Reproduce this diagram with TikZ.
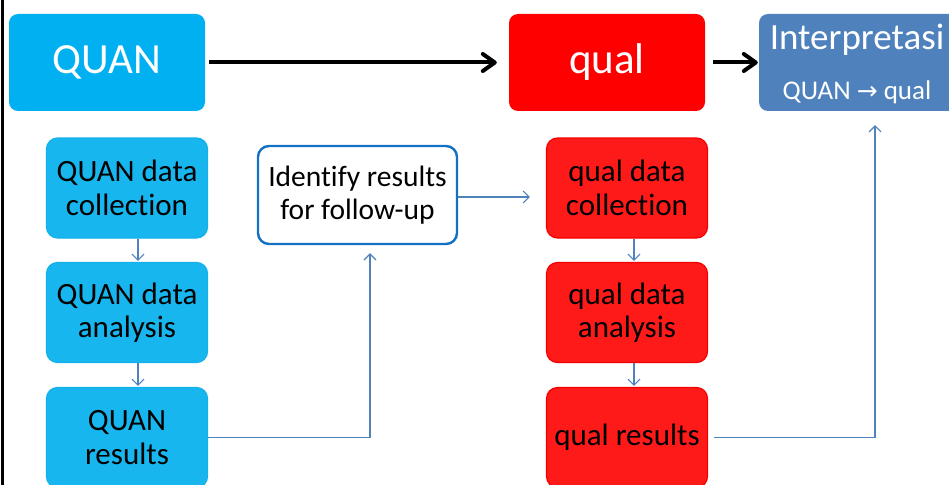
\documentclass[tikz,border=0pt]{standalone}
\usepackage{fontspec}
\setmainfont{Carlito}[Ligatures=NoCommon]
\newfontfamily\arrowfont{DejaVu Sans}
\usetikzlibrary{arrows.meta,calc}
\definecolor{quanTop}{RGB}{0,176,240}
\definecolor{quanSub}{RGB}{24,182,238}
\definecolor{quanSubB}{RGB}{20,176,236}
\definecolor{qualTop}{RGB}{255,0,0}
\definecolor{qualSub}{RGB}{255,26,26}
\definecolor{qualSubB}{RGB}{245,0,0}
\definecolor{interp}{RGB}{79,129,189}
\definecolor{identB}{RGB}{20,112,196}
\definecolor{linkB}{RGB}{79,129,189}
\tikzset{
  topbox/.style={rectangle, rounded corners=9pt, minimum width=196pt, minimum height=97pt, inner sep=0pt, text=white, align=center},
  subbox/.style={rectangle, rounded corners=11pt, minimum width=161pt, minimum height=100pt, inner sep=0pt, text=black, align=center, line width=1.2pt, font=\fontsize{31}{33.5}\selectfont},
  bigarrow/.style={line width=4pt, -{Straight Barb[length=12pt, width=17pt, line width=4pt, round]}},
  link/.style={draw=linkB, line width=1.2pt, -{Straight Barb[length=6pt, width=12pt, line width=1.1pt]}}
}
\begin{document}
\begin{tikzpicture}[x=1pt, y=-1pt]
\useasboundingbox (0,0) rectangle (949,484);
\clip (0,0) rectangle (949,484);
\fill[white] (0,0) rectangle (949,484);
\draw[line width=2.6pt, black] (2.5,-5) -- (2.5,490);
% top row
\node[topbox, fill=quanTop, font=\fontsize{43}{48}\selectfont] (quan) at (107,62.5) {QUAN};
\node[topbox, fill=qualTop, font=\fontsize{43}{48}\selectfont] (qual) at (607,62.5) {qual};
\node[topbox, fill=interp, minimum width=200pt] (interp) at (859,62.5) {};
\node[text=white, font=\fontsize{37}{44}\selectfont, inner sep=0pt] (interpT) at (857,40) {Interpretasi};
\node[text=white, font=\fontsize{27}{30}\selectfont, inner sep=0pt] (interpS) at (857,92) {QUAN {\arrowfont\fontsize{25}{28}\selectfont →} qual};
% QUAN column
\node[subbox, fill=quanSub, draw=quanSubB] (qdc) at (127,188) {QUAN data\\collection};
\node[subbox, fill=quanSub, draw=quanSubB] (qda) at (127,312.5) {QUAN data\\analysis};
\node[subbox, fill=quanSub, draw=quanSubB] (qres) at (127,437.5) {QUAN\\results};
% identify
\node[rectangle, rounded corners=11pt, minimum width=199pt, minimum height=98pt, inner sep=0pt, draw=identB, line width=2.4pt, fill=white, align=center, font=\fontsize{29.5}{32.5}\selectfont] (ident) at (357.5,195) {Identify results\\for follow-up};
% qual column
\node[subbox, fill=qualSub, draw=qualSubB] (ldc) at (627,188) {qual data\\collection};
\node[subbox, fill=qualSub, draw=qualSubB] (lda) at (627,312.5) {qual data\\analysis};
\node[subbox, fill=qualSub, draw=qualSubB] (lres) at (627,437.5) {qual results};
% big arrows
\draw[bigarrow, shorten <=4pt, shorten >=12pt] (quan.east) -- (qual.west);
\draw[bigarrow, shorten <=8pt, shorten >=1pt] (qual.east) -- (interp.west);
% links
\draw[link, shorten >=1pt] ($(qdc.south)+(11,0)$) -- ($(qda.north)+(11,0)$);
\draw[link, shorten >=1pt] ($(qda.south)+(11,0)$) -- ($(qres.north)+(11,0)$);
\draw[link, shorten >=1pt] ($(ldc.south)+(7,0)$) -- ($(lda.north)+(7,0)$);
\draw[link, shorten >=1pt] ($(lda.south)+(7,0)$) -- ($(lres.north)+(7,0)$);
\draw[link, shorten >=16pt] ($(ident.east)+(0,2)$) -- ($(ldc.west)+(0,9)$);
\draw[link, shorten >=8pt] (qres.east) -| ($(ident.south)+(12.5,0)$);
\draw[link, shorten <=6pt, shorten >=14pt] (lres.east) -| ($(interp.south)+(16,0)$);
\end{tikzpicture}
\end{document}
